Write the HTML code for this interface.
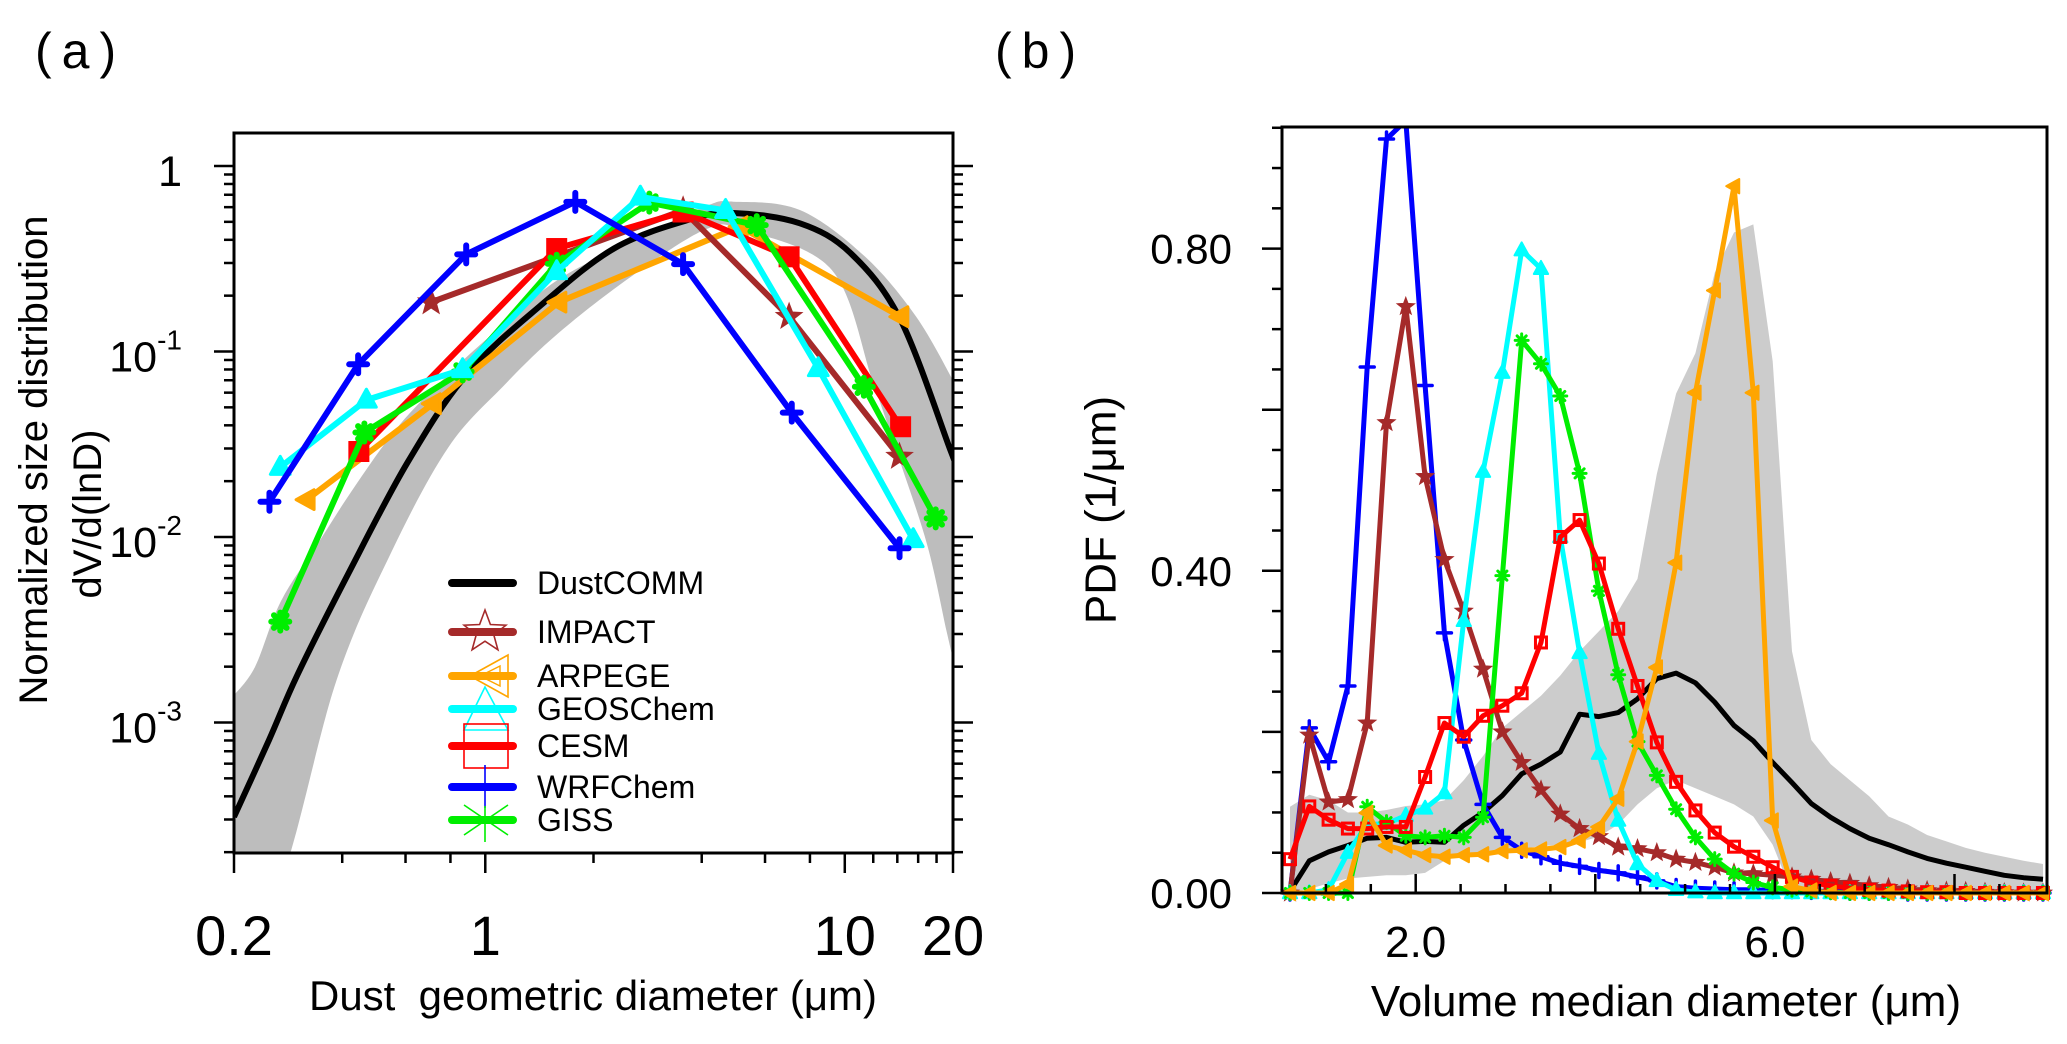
<!DOCTYPE html>
<html><head><meta charset="utf-8"><title>Dust size distribution</title>
<style>
html,body{margin:0;padding:0;background:#fff;}
svg{display:block;font-family:"Liberation Sans",Arial,sans-serif;}
</style></head>
<body>
<svg id="fig" width="2067" height="1044" viewBox="0 0 2067 1044" xmlns="http://www.w3.org/2000/svg">
<defs>
<clipPath id="clipA"><rect x="234" y="133" width="719" height="720"/></clipPath>
<clipPath id="clipB"><rect x="1282" y="127" width="765" height="766"/></clipPath>
<clipPath id="clipB2"><rect x="1270" y="127" width="790" height="785"/></clipPath>
</defs>
<rect x="0" y="0" width="2067" height="1044" fill="#fff"/>

<text x="35" y="68" font-size="50" letter-spacing="10">(a)</text>
<text x="995" y="68" font-size="50" letter-spacing="10">(b)</text>

<text transform="translate(34,460) rotate(-90)" text-anchor="middle" dominant-baseline="central" font-size="40">Normalized size distribution</text>
<text transform="translate(88,514) rotate(-90)" text-anchor="middle" dominant-baseline="central" font-size="40">dV/d(lnD)</text>
<text x="593" y="1010" text-anchor="middle" font-size="42">Dust&#160; geometric diameter (μm)</text>

<text transform="translate(1101,510) rotate(-90)" text-anchor="middle" dominant-baseline="central" font-size="44">PDF (1/μm)</text>
<text x="1666" y="1016" text-anchor="middle" font-size="44">Volume median diameter (μm)</text>

<g id="panelA"></g>
<g id="panelB"></g>
</svg>

<script>
// ---------------- Panel (a) data ----------------
const dustcommD = [0.2,0.25,0.3,0.415,0.606,0.885,1.42,2.28,3.68,4.9,7.5,10.4,14.3,19.6,20];
const dustcommV = [0.00031,0.0008,0.0018,0.0063,0.025,0.0747,0.176,0.359,0.513,0.558,0.491,0.338,0.148,0.030,0.027];
const bandUpperD = [0.2,0.229,0.27,0.342,0.434,0.578,0.804,1.12,1.6,2.57,4.1,4.9,7.5,11.4,15.8,20];
const bandUpperV = [0.0014,0.002,0.0045,0.0092,0.0188,0.0403,0.078,0.139,0.245,0.394,0.606,0.642,0.579,0.324,0.154,0.07];
const bandLowerD = [0.2,0.274,0.386,0.55,0.788,1.12,1.6,2.57,4.1,5.2,9.2,12.0,14.3,17.0,19.2,20];
const bandLowerV = [0.00005,0.00015,0.0017,0.0084,0.0303,0.0648,0.126,0.257,0.455,0.452,0.275,0.0676,0.025,0.0089,0.0031,0.0022];

const impactD = [0.707,3.55,7.0,14.2];
const impactV = [0.1845,0.577,0.154,0.0271];
const arpegeD = [0.319,0.716,1.6,5.11,14.3];
const arpegeV = [0.0159,0.0523,0.1845,0.471,0.154];
const geosD = [0.269,0.467,0.865,1.58,2.70,4.66,8.44,15.5];
const geosV = [0.0238,0.0548,0.080,0.27,0.681,0.577,0.081,0.0097];
const cesmD = [0.445,1.58,3.55,7.0,14.3];
const cesmV = [0.0289,0.359,0.565,0.324,0.0393];
const wrfD = [0.251,0.443,0.885,1.78,3.55,7.12,14.2];
const wrfV = [0.0155,0.0853,0.334,0.641,0.296,0.0468,0.0087];
const gissD = [0.269,0.461,0.865,1.58,2.86,5.69,11.3,17.9];
const gissV = [0.0035,0.0366,0.078,0.297,0.635,0.48,0.0646,0.0126];

const xTickMajorA = [0.2,1,10,20];
const xTickLabelA = ["0.2","1","10","20"];
const xTickMinorA = [0.4,0.6,0.8,2,4,6,8,12,14,16,18];
const yTickExpA = [0,-1,-2,-3];

// ---------------- Panel (b) data ----------------
const bins = [0.600,0.815,1.030,1.245,1.460,1.675,1.890,2.105,2.320,2.535,2.750,2.965,3.180,3.395,3.610,3.825,4.040,4.255,4.470,4.685,4.900,5.115,5.330,5.545,5.760,5.975,6.190,6.405,6.620,6.835,7.050,7.265,7.480,7.695,7.910,8.125,8.340,8.555,8.770,8.985];
const pdfDust = [0.002,0.040,0.051,0.059,0.068,0.069,0.063,0.064,0.063,0.084,0.100,0.121,0.148,0.160,0.175,0.222,0.219,0.224,0.241,0.266,0.273,0.261,0.237,0.208,0.189,0.162,0.137,0.111,0.094,0.080,0.068,0.060,0.051,0.043,0.037,0.032,0.027,0.022,0.019,0.017];
const pdfUpper = [0.107,0.122,0.115,0.10,0.10,0.103,0.108,0.11,0.115,0.14,0.17,0.205,0.225,0.245,0.27,0.30,0.325,0.35,0.39,0.52,0.62,0.67,0.77,0.82,0.83,0.66,0.30,0.19,0.16,0.14,0.12,0.095,0.085,0.072,0.064,0.056,0.05,0.045,0.04,0.036];
const pdfLower = [0,0.005,0.012,0.018,0.02,0.022,0.022,0.025,0.04,0.048,0.05,0.052,0.055,0.058,0.06,0.063,0.07,0.085,0.11,0.13,0.14,0.13,0.12,0.11,0.095,0.06,0,0,0,0,0,0,0,0,0,0,0,0,0,0];
const pdfWrf = [0.0,0.205,0.163,0.257,0.653,0.936,0.959,0.63,0.323,0.19,0.11,0.069,0.053,0.045,0.037,0.033,0.028,0.025,0.02,0.015,0.008,0.006,0.005,0.004,0.004,0.003,0.003,0.002,0.002,0.001,0.001,0.001,0,0,0,0,0,0,0,0];
const pdfImpact = [0,0.196,0.113,0.116,0.211,0.584,0.728,0.517,0.414,0.350,0.278,0.200,0.162,0.128,0.098,0.080,0.070,0.057,0.055,0.050,0.042,0.038,0.032,0.025,0.024,0.022,0.020,0.017,0.014,0.012,0.009,0.007,0.005,0.003,0.0025,0.002,0.001,0.0005,0,0];
const pdfCesm = [0.042,0.1075,0.091,0.080,0.080,0.082,0.082,0.144,0.211,0.194,0.220,0.2325,0.248,0.311,0.442,0.463,0.409,0.328,0.257,0.187,0.138,0.1025,0.075,0.0575,0.045,0.032,0.020,0.013,0.009,0.006,0.004,0.003,0.002,0.001,0.001,0,0,0,0,0];
const pdfGeos = [0,0,0.004,0.05,0.085,0.086,0.096,0.105,0.124,0.338,0.523,0.646,0.798,0.775,0.442,0.298,0.173,0.09,0.036,0.015,0.004,0.001,0,0,0,0,0,0,0,0,0,0,0,0,0,0,0,0,0,0];
const pdfGiss = [0,0,0,0,0.107,0.088,0.071,0.069,0.071,0.069,0.094,0.394,0.686,0.657,0.617,0.521,0.375,0.271,0.188,0.146,0.104,0.069,0.042,0.024,0.013,0.007,0.004,0.002,0.001,0,0,0,0,0,0,0,0,0,0,0];
const pdfArpege = [0,0,0,0.011,0.0995,0.059,0.053,0.047,0.045,0.047,0.048,0.052,0.053,0.054,0.057,0.065,0.082,0.117,0.188,0.28,0.41,0.621,0.748,0.8775,0.621,0.09,0.008,0.003,0,0,0,0,0,0,0,0,0,0,0,0];

const yTickLabelB = ["0.00","0.40","0.80"];
const yTickLabelValB = [0,0.4,0.8];
const yTickMajorB = [0,0.2,0.4,0.6,0.8];
const xTickMajorB = [2,4,6,8];
const xTickLabelB = ["2.0","6.0"];
const xTickLabelValB = [2,6];

function xa(d){return 234+359.5*Math.log10(d/0.2);}
function ya(v){return 166-185.5*Math.log10(v);}
function xb(u){return 1281+89.8*(u-0.5);}
function yb(v){return 893-805.5*v;}

const NS="http://www.w3.org/2000/svg";
function mk(tag,attrs,parent){
  const e=document.createElementNS(NS,tag);
  for(const k in attrs) e.setAttribute(k,attrs[k]);
  parent.appendChild(e); return e;
}
function crPath(pts){
  if(pts.length<2) return "";
  let d="M"+pts[0][0].toFixed(1)+","+pts[0][1].toFixed(1);
  for(let i=0;i<pts.length-1;i++){
    const p0=pts[i-1]||pts[i], p1=pts[i], p2=pts[i+1], p3=pts[i+2]||p2;
    const c1=[p1[0]+(p2[0]-p0[0])/6, p1[1]+(p2[1]-p0[1])/6];
    const c2=[p2[0]-(p3[0]-p1[0])/6, p2[1]-(p3[1]-p1[1])/6];
    d+=" C"+c1[0].toFixed(1)+","+c1[1].toFixed(1)+" "+c2[0].toFixed(1)+","+c2[1].toFixed(1)+" "+p2[0].toFixed(1)+","+p2[1].toFixed(1);
  }
  return d;
}
function linePath(pts){return pts.map((p,i)=>(i?"L":"M")+p[0].toFixed(1)+","+p[1].toFixed(1)).join(" ");}
function starPts(cx,cy,r){
  const a=[];for(let i=0;i<10;i++){const rr=i%2?r*0.42:r;const t=-Math.PI/2+i*Math.PI/5;a.push((cx+rr*Math.cos(t)).toFixed(1)+","+(cy+rr*Math.sin(t)).toFixed(1));}return a.join(" ");
}
function marker(type,x,y,s,color,parent,filled,sw){
  const g=mk("g",{},parent);
  
  
  const fill=filled?color:"none";
  if(type==="star"){mk("polygon",{points:starPts(x,y,s*1.2),fill:filled?color:"none",stroke:color,"stroke-width":sw},g);}
  else if(type==="square"){mk("rect",{x:x-s,y:y-s,width:2*s,height:2*s,fill:fill,stroke:color,"stroke-width":sw},g);}
  else if(type==="triup"){mk("polygon",{points:`${x},${y-s*1.2} ${x-s*1.1},${y+s*0.8} ${x+s*1.1},${y+s*0.8}`,fill:fill,stroke:color,"stroke-width":sw,"stroke-linejoin":"round"},g);}
  else if(type==="trileft"){mk("polygon",{points:`${x-s*1.2},${y} ${x+s*0.8},${y-s*1.1} ${x+s*0.8},${y+s*1.1}`,fill:fill,stroke:color,"stroke-width":sw,"stroke-linejoin":"round"},g);}
  else if(type==="plus"){mk("path",{d:`M${x-s},${y}H${x+s}M${x},${y-s}V${y+s}`,stroke:color,"stroke-width":sw,"stroke-linecap":"round"},g);}
  else if(type==="aster"){const k=s*0.7;mk("path",{d:`M${x-s},${y}H${x+s}M${x},${y-s}V${y+s}M${x-k},${y-k}L${x+k},${y+k}M${x-k},${y+k}L${x+k},${y-k}`,stroke:color,"stroke-width":sw,"stroke-linecap":"round"},g);}
  return g;
}

// ================= PANEL A =================
const A=document.getElementById("panelA");
const plotA=mk("g",{"clip-path":"url(#clipA)"},A);



const upA=bandUpperD.map((d,i)=>[xa(d),ya(bandUpperV[i])]);
const loA=bandLowerD.map((d,i)=>[xa(d),ya(bandLowerV[i])]).reverse();
const bandA=mk("path",{d:crPath(upA)+" L"+loA[0][0].toFixed(1)+","+loA[0][1].toFixed(1)+crPath(loA).replace(/^M[^C]*/," ")+" Z",fill:"#bdbdbd",stroke:"none"},plotA);



const blackA=mk("path",{d:crPath(dustcommD.map((d,i)=>[xa(d),ya(dustcommV[i])])),fill:"none",stroke:"#000","stroke-width":6},plotA);



const seriesA=[
  {n:"arpege",D:arpegeD,V:arpegeV,c:"#ffa500",m:"trileft"},
  {n:"impact",D:impactD,V:impactV,c:"#a52a2a",m:"star"},
  {n:"cesm",D:cesmD,V:cesmV,c:"#ff0000",m:"square"},
  {n:"giss",D:gissD,V:gissV,c:"#00ee00",m:"aster"},
  {n:"geoschem",D:geosD,V:geosV,c:"#00ffff",m:"triup"},
  {n:"wrfchem",D:wrfD,V:wrfV,c:"#0000ff",m:"plus"}
];
seriesA.forEach(s=>{
  const g=mk("g",{},A);
  
  
  const pts=s.D.map((d,i)=>[xa(d),ya(s.V[i])]);
  const l=mk("path",{d:linePath(pts),fill:"none",stroke:s.c,"stroke-width":6,"stroke-linejoin":"round"},g);
  
  
  pts.forEach(p=>{
    if(s.m==="plus") marker("plus",p[0],p[1],9,s.c,g,true,6);
    else if(s.m==="aster") marker("aster",p[0],p[1],9,s.c,g,true,6);
    else marker(s.m,p[0],p[1],9,s.c,g,true,3);
  });
});

const frameA=mk("rect",{x:234,y:133,width:719,height:720,fill:"none",stroke:"#000","stroke-width":3},A);


const ticksA=mk("g",{stroke:"#000","stroke-width":2.5},A);


for(let e=-4;e<=0;e++){
  for(let m=1;m<=9;m++){
    const y=ya(m*Math.pow(10,e));
    if(y<133||y>853) continue;
    const L=m===1?20:10;
    mk("line",{x1:234-L,y1:y,x2:234,y2:y},ticksA);
    mk("line",{x1:953,y1:y,x2:953+L,y2:y},ticksA);
  }
}
xTickMajorA.forEach(d=>{mk("line",{x1:xa(d),y1:853,x2:xa(d),y2:873},ticksA);});
xTickMinorA.forEach(d=>{mk("line",{x1:xa(d),y1:853,x2:xa(d),y2:863},ticksA);});
xTickMajorA.forEach((d,i)=>{
  const t=mk("text",{x:xa(d),y:955,"text-anchor":"middle","font-size":56},A);
  t.textContent=xTickLabelA[i];
  
  
});
yTickExpA.forEach(e=>{
  const y=ya(Math.pow(10,e));
  const t=mk("text",{x:182,y:y+20,"text-anchor":"end","font-size":43},A);
  
  
  if(e===0){t.textContent="1";}
  else{
    t.appendChild(document.createTextNode("10"));
    const sp=document.createElementNS(NS,"tspan");
    sp.setAttribute("dy","-22");sp.setAttribute("font-size","28");
    sp.textContent=String(e);
    t.appendChild(sp);
  }
});

const leg=mk("g",{},A);


const legendItems=[
  {t:"DustCOMM",c:"#000",y:583,m:null},
  {t:"IMPACT",c:"#a52a2a",y:632,m:"star"},
  {t:"ARPEGE",c:"#ffa500",y:676,m:"trileft"},
  {t:"GEOSChem",c:"#00ffff",y:709,m:"triup"},
  {t:"CESM",c:"#ff0000",y:746,m:"square"},
  {t:"WRFChem",c:"#0000ff",y:787,m:"plus"},
  {t:"GISS",c:"#00ee00",y:820,m:"aster"}
];
legendItems.forEach(it=>{
  const g=mk("g",{},leg);
  
  
  mk("line",{x1:452,y1:it.y,x2:513,y2:it.y,stroke:it.c,"stroke-width":8,"stroke-linecap":"round"},g);
  const x=485,y=it.y;
  if(it.m==="star") mk("polygon",{points:starPts(x,y,22),fill:"none",stroke:it.c,"stroke-width":1.6},g);
  if(it.m==="trileft"){mk("polygon",{points:`470,${y} 508,${y-21} 508,${y+21}`,fill:"none",stroke:it.c,"stroke-width":1.6},g);mk("polygon",{points:`480,${y} 500,${y-10} 500,${y+10}`,fill:"none",stroke:it.c,"stroke-width":1.4},g);}
  if(it.m==="triup") mk("polygon",{points:`485,${y-22} 464,${y+21} 508,${y+21}`,fill:"none",stroke:it.c,"stroke-width":1.6},g);
  if(it.m==="square") mk("rect",{x:464,y:y-22,width:44,height:44,fill:"none",stroke:it.c,"stroke-width":1.6},g);
  if(it.m==="plus") mk("line",{x1:485,y1:y-22,x2:485,y2:y+21,stroke:it.c,"stroke-width":1.6},g);
  if(it.m==="aster") mk("path",{d:`M464,${y-15}L508,${y+15}M464,${y+15}L508,${y-15}M485,${y-14}V${y+22}`,stroke:it.c,"stroke-width":1.6},g);
  const t=mk("text",{x:537,y:it.y+11,"font-size":32},g);
  t.textContent=it.t;
});

// ================= PANEL B =================
const B=document.getElementById("panelB");
const plotB=mk("g",{"clip-path":"url(#clipB)"},B);



const upB=bins.map((u,i)=>[xb(u),yb(pdfUpper[i])]);
const loB=bins.map((u,i)=>[xb(u),yb(pdfLower[i])]).reverse();
const bandB=mk("path",{d:linePath(upB.concat(loB))+" Z",fill:"#cccccc",stroke:"none"},plotB);



const blackB=mk("path",{d:linePath(bins.map((u,i)=>[xb(u),yb(pdfDust[i])])),fill:"none",stroke:"#000","stroke-width":5,"stroke-linejoin":"round"},plotB);



const plotB2=mk("g",{"clip-path":"url(#clipB2)"},B);


const seriesB=[
  {n:"wrfchem",V:pdfWrf,c:"#0000ff",m:"plus"},
  {n:"impact",V:pdfImpact,c:"#a52a2a",m:"star"},
  {n:"geoschem",V:pdfGeos,c:"#00ffff",m:"triup"},
  {n:"giss",V:pdfGiss,c:"#00ee00",m:"aster"},
  {n:"cesm",V:pdfCesm,c:"#ff0000",m:"square"},
  {n:"arpege",V:pdfArpege,c:"#ffa500",m:"trileft"}
];
seriesB.forEach(s=>{
  const g=mk("g",{},plotB2);
  
  
  const pts=bins.map((u,i)=>[xb(u),yb(s.V[i])]);
  const l=mk("path",{d:linePath(pts),fill:"none",stroke:s.c,"stroke-width":5,"stroke-linejoin":"round"},g);
  
  
  pts.forEach(p=>{
    if(s.m==="square") marker("square",p[0],p[1],5.5,s.c,g,false,3);
    else if(s.m==="plus") marker("plus",p[0],p[1],7,s.c,g,true,3.5);
    else if(s.m==="aster") marker("aster",p[0],p[1],6.5,s.c,g,true,3);
    else marker(s.m,p[0],p[1],6.5,s.c,g,true,2);
  });
});

const frameB=mk("rect",{x:1282,y:127,width:765,height:766,fill:"none",stroke:"#000","stroke-width":3},B);


const ticksB=mk("g",{stroke:"#000","stroke-width":2.5},B);


for(let k=0;k<=19;k++){
  const v=k*0.05; const y=yb(v); if(y<127) continue;
  const major=yTickMajorB.some(m=>Math.abs(m-v)<1e-6);
  mk("line",{x1:1282-(major?20:10),y1:y,x2:1282,y2:y},ticksB);
}
for(let k=2;k<=17;k++){
  const u=k*0.5; const x=xb(u);
  const major=xTickMajorB.some(m=>Math.abs(m-u)<1e-6);
  mk("line",{x1:x,y1:893,x2:x,y2:893-(major?19:9)},ticksB);
}
yTickLabelValB.forEach((v,i)=>{
  const t=mk("text",{x:1232,y:yb(v)+15,"text-anchor":"end","font-size":42},B);
  t.textContent=yTickLabelB[i];
  
  
});
xTickLabelValB.forEach((u,i)=>{
  const t=mk("text",{x:xb(u),y:957,"text-anchor":"middle","font-size":44},B);
  t.textContent=xTickLabelB[i];
  
  
});
</script>
</body></html>
